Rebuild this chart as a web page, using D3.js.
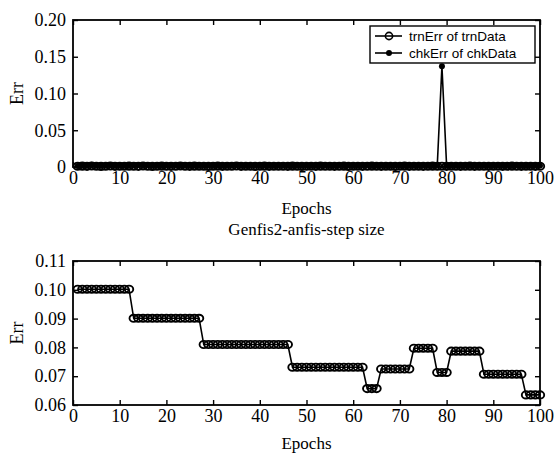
<!DOCTYPE html>
<html lang="en">

<head>
    <meta charset="UTF-8">
    <title>Genfis2-anfis-step size</title>
    <script src="https://d3js.org/d3.v7.min.js"></script>
    <style>
        body { margin: 0; background: #fff; }
        text { font-family: "Liberation Serif", "Times New Roman", serif; fill: #000; }
        .legend text { font-family: "Liberation Sans", Arial, sans-serif; font-size: 13.5px; }
    </style>
</head>

<body>
    <script>
        // epochs 1..100
        var epochs = d3.range(1, 101);

        // top plot: errors of training / checking data
        var trnErrTop = [
            0.0010, 0.0012, 0.0009, 0.0014, 0.0011, 0.0008, 0.0010, 0.0013, 0.0009, 0.0011,
            0.0010, 0.0012, 0.0011, 0.0009, 0.0013, 0.0010, 0.0008, 0.0011, 0.0012, 0.0010,
            0.0009, 0.0011, 0.0013, 0.0010, 0.0009, 0.0012, 0.0010, 0.0011, 0.0008, 0.0010,
            0.0012, 0.0009, 0.0011, 0.0010, 0.0013, 0.0009, 0.0010, 0.0011, 0.0008, 0.0010,
            0.0012, 0.0009, 0.0010, 0.0011, 0.0010, 0.0009, 0.0012, 0.0010, 0.0008, 0.0011,
            0.0010, 0.0009, 0.0012, 0.0010, 0.0011, 0.0009, 0.0010, 0.0012, 0.0008, 0.0010,
            0.0011, 0.0009, 0.0010, 0.0012, 0.0010, 0.0009, 0.0011, 0.0010, 0.0008, 0.0010,
            0.0012, 0.0009, 0.0011, 0.0010, 0.0009, 0.0010, 0.0012, 0.0010, 0.0011, 0.0009,
            0.0010, 0.0011, 0.0009, 0.0010, 0.0012, 0.0009, 0.0010, 0.0011, 0.0009, 0.0010,
            0.0011, 0.0009, 0.0010, 0.0012, 0.0010, 0.0009, 0.0011, 0.0010, 0.0009, 0.0010
        ];
        var chkErrTop = [
            0.0015, 0.0022, 0.0018, 0.0030, 0.0020, 0.0016, 0.0019, 0.0024, 0.0017, 0.0021,
            0.0018, 0.0020, 0.0023, 0.0027, 0.0019, 0.0025, 0.0016, 0.0020, 0.0018, 0.0022,
            0.0019, 0.0024, 0.0017, 0.0021, 0.0018, 0.0020, 0.0016, 0.0019, 0.0022, 0.0018,
            0.0020, 0.0017, 0.0019, 0.0021, 0.0025, 0.0018, 0.0016, 0.0020, 0.0019, 0.0017,
            0.0020, 0.0018, 0.0016, 0.0019, 0.0021, 0.0017, 0.0018, 0.0020, 0.0016, 0.0019,
            0.0018, 0.0017, 0.0020, 0.0022, 0.0018, 0.0016, 0.0019, 0.0017, 0.0020, 0.0018,
            0.0016, 0.0019, 0.0024, 0.0018, 0.0017, 0.0020, 0.0016, 0.0018, 0.0019, 0.0017,
            0.0018, 0.0016, 0.0020, 0.0017, 0.0019, 0.0018, 0.0016, 0.0020, 0.1370, 0.0018,
            0.0017, 0.0019, 0.0016, 0.0018, 0.0020, 0.0017, 0.0016, 0.0019, 0.0018, 0.0017,
            0.0020, 0.0016, 0.0018, 0.0017, 0.0019, 0.0016, 0.0018, 0.0017, 0.0019, 0.0018
        ];

        // bottom plot: training error with step size adaptation
        var trnErrBottom = [
            0.1002, 0.1002, 0.1002, 0.1002, 0.1002, 0.1002, 0.1002, 0.1002, 0.1002, 0.1002,
            0.1002, 0.1002, 0.0901, 0.0901, 0.0901, 0.0901, 0.0901, 0.0901, 0.0901, 0.0901,
            0.0901, 0.0901, 0.0901, 0.0901, 0.0901, 0.0901, 0.0901, 0.0810, 0.0810, 0.0810,
            0.0810, 0.0810, 0.0810, 0.0810, 0.0810, 0.0810, 0.0810, 0.0810, 0.0810, 0.0810,
            0.0810, 0.0810, 0.0810, 0.0810, 0.0810, 0.0810, 0.0731, 0.0731, 0.0731, 0.0731,
            0.0731, 0.0731, 0.0731, 0.0731, 0.0731, 0.0731, 0.0731, 0.0731, 0.0731, 0.0731,
            0.0731, 0.0731, 0.0657, 0.0657, 0.0657, 0.0725, 0.0725, 0.0725, 0.0725, 0.0725,
            0.0725, 0.0725, 0.0797, 0.0797, 0.0797, 0.0797, 0.0797, 0.0713, 0.0713, 0.0713,
            0.0787, 0.0787, 0.0787, 0.0787, 0.0787, 0.0787, 0.0787, 0.0707, 0.0707, 0.0707,
            0.0707, 0.0707, 0.0707, 0.0707, 0.0707, 0.0707, 0.0635, 0.0635, 0.0635, 0.0635
        ];

        var xTicks = [0, 10, 20, 30, 40, 50, 60, 70, 80, 90, 100];
        var yTicksTop = [0, 0.05, 0.10, 0.15, 0.20];
        var yTicksBottom = [0.06, 0.07, 0.08, 0.09, 0.10, 0.11];
        var legendLabels = ["trnErr of trnData", "chkErr of chkData"];

        var width = 554;
        var height = 455;
        var svg = d3.select("body").append("svg")
            .attr("width", width)
            .attr("height", height);

        var left = 73, right = 540;

        var xScale = d3.scaleLinear().domain([0, 100]).range([left, right]);

        function frame(yScale, yTicks, yFormat, top, bottom) {
            var g = svg.append("g");
            var fontSize = "18px";

            g.append("g")
                .attr("transform", "translate(0," + bottom + ")")
                .call(d3.axisBottom(xScale).tickValues(xTicks).tickSizeInner(-5).tickSizeOuter(0).tickPadding(4))
                .call(s => s.selectAll("text").style("font-size", fontSize).attr("font-family", null));
            g.append("g")
                .attr("transform", "translate(0," + top + ")")
                .call(d3.axisTop(xScale).tickValues(xTicks).tickSizeInner(-5).tickSizeOuter(0).tickFormat(""));
            g.append("g")
                .attr("transform", "translate(" + left + ",0)")
                .call(d3.axisLeft(yScale).tickValues(yTicks).tickSizeInner(-5).tickSizeOuter(0).tickPadding(7).tickFormat(yFormat))
                .call(s => s.selectAll("text").style("font-size", fontSize).attr("font-family", null));
            g.append("g")
                .attr("transform", "translate(" + right + ",0)")
                .call(d3.axisRight(yScale).tickValues(yTicks).tickSizeInner(-5).tickSizeOuter(0).tickFormat(""));

            g.selectAll(".domain").remove();
            g.selectAll(".tick line").attr("stroke", "#000").attr("stroke-width", 1.4);

            g.append("rect")
                .attr("x", left).attr("y", top)
                .attr("width", right - left).attr("height", bottom - top)
                .attr("fill", "none").attr("stroke", "#000").attr("stroke-width", 1.8);
            return g;
        }

        function series(values, yScale, marker) {
            var pts = epochs.map((e, i) => [e, values[i]]);
            var line = d3.line().x(d => xScale(d[0])).y(d => yScale(d[1]));
            svg.append("path")
                .attr("d", line(pts))
                .attr("fill", "none")
                .attr("stroke", "#000")
                .attr("stroke-width", 1.6);
            var m = svg.append("g").selectAll("ellipse")
                .data(pts)
                .enter()
                .append("ellipse")
                .attr("cx", d => xScale(d[0]))
                .attr("cy", d => yScale(d[1]));
            if (marker === "o") {
                m.attr("rx", 4.2).attr("ry", 3.6).attr("fill", "none").attr("stroke", "#000").attr("stroke-width", 1.9);
            } else {
                m.attr("rx", 3).attr("ry", 3).attr("fill", "#000");
            }
        }

        // ---- top plot ----
        var top1 = 20, bottom1 = 167;
        var yTop = d3.scaleLinear().domain([0, 0.2]).range([bottom1, top1]);
        frame(yTop, yTicksTop, d => d === 0 ? "0" : d3.format(".2f")(d), top1, bottom1);
        series(trnErrTop, yTop, "o");
        series(chkErrTop, yTop, "dot");

        // legend
        var lg = svg.append("g").attr("class", "legend");
        lg.append("rect")
            .attr("x", 370).attr("y", 26).attr("width", 165).attr("height", 37)
            .attr("fill", "#fff").attr("stroke", "#000").attr("stroke-width", 1.4);
        legendLabels.forEach(function (lab, i) {
            var y = 36 + i * 17;
            lg.append("line").attr("x1", 375).attr("x2", 402).attr("y1", y).attr("y2", y)
                .attr("stroke", "#000").attr("stroke-width", 1.6);
            if (i === 0) {
                lg.append("ellipse").attr("cx", 389).attr("cy", y).attr("rx", 3.6).attr("ry", 3.6)
                    .attr("fill", "none").attr("stroke", "#000").attr("stroke-width", 1.6);
            } else {
                lg.append("ellipse").attr("cx", 389).attr("cy", y).attr("rx", 3).attr("ry", 3).attr("fill", "#000");
            }
            lg.append("text").attr("x", 409).attr("y", y).attr("dy", "0.35em").text(lab);
        });

        svg.append("text")
            .attr("transform", "translate(23," + ((top1 + bottom1) / 2) + ") rotate(-90)")
            .attr("text-anchor", "middle")
            .style("font-size", "18px")
            .text("Err");
        svg.append("text")
            .attr("x", (left + right) / 2).attr("y", 214)
            .attr("text-anchor", "middle")
            .style("font-size", "17px")
            .text("Epochs");
        svg.append("text")
            .attr("x", (left + right) / 2).attr("y", 235)
            .attr("text-anchor", "middle")
            .style("font-size", "17px")
            .text("Genfis2-anfis-step size");

        // ---- bottom plot ----
        var top2 = 261, bottom2 = 405;
        var yBot = d3.scaleLinear().domain([0.06, 0.11]).range([bottom2, top2]);
        frame(yBot, yTicksBottom, d3.format(".2f"), top2, bottom2);
        series(trnErrBottom, yBot, "o");

        svg.append("text")
            .attr("transform", "translate(23," + ((top2 + bottom2) / 2) + ") rotate(-90)")
            .attr("text-anchor", "middle")
            .style("font-size", "18px")
            .text("Err");
        svg.append("text")
            .attr("x", (left + right) / 2).attr("y", 449)
            .attr("text-anchor", "middle")
            .style("font-size", "17px")
            .text("Epochs");
    </script>
</body>

</html>
